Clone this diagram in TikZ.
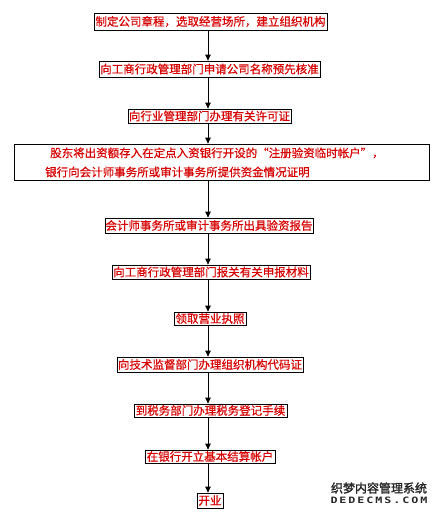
\documentclass[tikz,border=0pt]{standalone}
\usepackage{fontspec}
\usepackage{graphicx}
\newfontfamily\cjk[FakeBold=0.6]{Noto Sans CJK SC}
\newfontfamily\cjkwm[FakeBold=2]{Noto Sans CJK SC}
\newfontfamily\wmlat{DejaVu Sans Mono Bold}
\definecolor{txtred}{RGB}{215,0,0}
\definecolor{wmgray}{RGB}{40,40,40}
\usetikzlibrary{arrows.meta}
\tikzset{
  stepbox/.style={draw=black, line width=0.8pt, rectangle, inner sep=0pt,
    font=\cjk\fontsize{11.5}{13}\selectfont, text=txtred},
  flow/.style={draw=black, line width=0.8pt, -{Triangle[length=6pt,width=5.5pt]}},
  linetxt/.style={anchor=west, inner sep=0pt, font=\cjk\fontsize{11.5}{13}\selectfont, text=txtred}
}
\begin{document}
\begin{tikzpicture}[x=1pt,y=-1pt]
\useasboundingbox (0,0) rectangle (438,515);
\fill[white] (0,0) rectangle (438,515);
\coordinate (ax) at (208,0);
\node[stepbox, minimum width=233pt, minimum height=17pt] (b1) at (210.5,21.5) {制定公司章程，选取经营场所，建立组织机构};
\node[stepbox, minimum width=221pt, minimum height=16pt] (b2) at (209.5,69) {向工商行政管理部门申请公司名称预先核准};
\node[stepbox, minimum width=163pt, minimum height=14pt] (b3) at (209.5,116) {向行业管理部门办理有关许可证};
\node[stepbox, minimum width=415pt, minimum height=36pt] (b4) at (221.5,162) {};
\node[linetxt] (b4a) at (50,153) {股东将出资额存入在定点入资银行开设的“注册验资临时帐户”，};
\node[linetxt] (b4b) at (45,172) {银行向会计师事务所或审计事务所提供资金情况证明};
\node[stepbox, minimum width=208pt, minimum height=15pt] (b5) at (209,225.5) {会计师事务所或审计事务所出具验资报告};
\node[stepbox, minimum width=198pt, minimum height=14pt] (b6) at (211,272) {向工商行政管理部门报关有关申报材料};
\node[stepbox, minimum width=72pt, minimum height=13pt] (b7) at (210,318.5) {领取营业执照};
\node[stepbox, minimum width=186pt, minimum height=15pt] (b8) at (210,364.5) {向技术监督部门办理组织机构代码证};
\node[stepbox, minimum width=153pt, minimum height=13pt] (b9) at (210.5,410.5) {到税务部门办理税务登记手续};
\node[stepbox, minimum width=130pt, minimum height=13pt] (b10) at (210,456.5) {在银行开立基本结算帐户};
\node[stepbox, minimum width=26pt, minimum height=15pt] (b11) at (210,500.5) {开业};
\foreach \a/\b in {b1/b2,b2/b3,b3/b4,b4/b5,b5/b6,b6/b7,b7/b8,b8/b9,b9/b10,b10/b11}
  \draw[flow] (\a.south -| ax) -- (\b.north -| ax);
\node[inner sep=0pt, text=wmgray, font=\cjkwm\fontsize{12}{12}\selectfont] (wm1) at (379,488) {织梦内容管理系统};
\node[inner sep=0pt, text=wmgray] (wm2) at (379,500) {\resizebox{97pt}{6.5pt}{\wmlat D\,E\,D\,E\,C\,M\,S\,.\,C\,O\,M}};
\end{tikzpicture}
\end{document}
